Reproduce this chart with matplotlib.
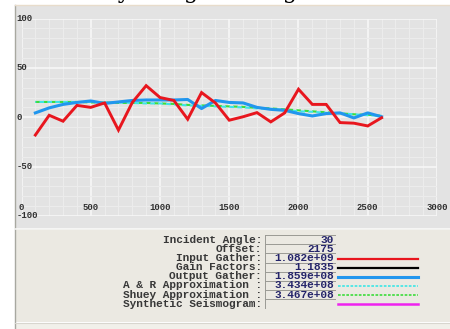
import matplotlib
matplotlib.use("Agg")
import matplotlib.pyplot as plt
from matplotlib.patches import Rectangle
from matplotlib.lines import Line2D
import matplotlib.transforms as mtransforms
from matplotlib.ticker import MultipleLocator

# ---------------- data ----------------
offsets = [100, 200, 300, 400, 500, 600, 700, 800, 900, 1000, 1100, 1200, 1300,
           1400, 1500, 1600, 1700, 1800, 1900, 2000, 2100, 2200, 2300, 2400, 2500, 2600]
input_gather = [-18, 2, -4, 12, 10, 14.5, -13, 15, 32, 20, 17, -2, 25,
                14.5, -3, 0.5, 4.7, -4.7, 4.4, 28.4, 13, 13, -5.4, -6, -8.8, -0.5]
output_gather = [4.4, 9.5, 13, 15, 16.5, 14, 15.5, 17, 17.5, 17.5, 17.5, 18, 8.8,
                 17, 15, 14.5, 10, 8, 7, 3.7, 1.3, 3.7, 4.4, -0.7, 4.4, 0.5]
ar_approx = [15.5, 15.5, 15.5, 15.5, 15.5, 15, 15, 14.5, 14, 14, 13, 12, 11.5,
             11, 10.5, 10, 9, 8.5, 7.5, 6, 5.5, 4.5, 4, 3, 2, 1.5]
shuey_approx = [15.5, 15.5, 15.5, 15.5, 15, 15, 14.5, 14.5, 14.5, 14, 13.5, 12.5, 12,
                11.5, 11, 10.5, 9.5, 9, 8, 7, 6, 5, 4, 3, 2.5, 1.5]

x_ticks = [0, 500, 1000, 1500, 2000, 2500, 3000]
y_ticks = [100, 50, 0, -50, -100]

table_labels = ["Incident Angle:", "Offset:", "Input Gather:", "Gain Factors:",
                "Output Gather:", "A & R Approximation :", "Shuey Approximation :",
                "Synthetic Seismogram:"]
table_values = ["30", "2175", "1.082e+09", "1.1835", "1.859e+08",
                "3.434e+08", "3.467e+08", ""]

# ---------------- styles ----------------
W, H = 450, 329
RED = "#e8161e"
BLUE = "#2196ee"
CYAN = "#3ce6e6"
GREEN = "#3cdc3c"
MAGENTA = "#ee22ee"
PANEL = "#e3e3e3"
BEIGE = "#ebe9e2"
mono = ["Liberation Mono", "DejaVu Sans Mono"]

def fx(px):
    return px / W

def fy(py):
    return 1 - py / H

fig = plt.figure(figsize=(W / 100, H / 100), dpi=100)
fig.patch.set_facecolor("white")

# panels
fig.patches.append(Rectangle((fx(15), fy(228)), fx(450) - fx(15), fy(5) - fy(228),
                             transform=fig.transFigure, facecolor=PANEL,
                             edgecolor="none", zorder=-10))
fig.patches.append(Rectangle((fx(15), fy(322)), fx(450) - fx(15), fy(229) - fy(322),
                             transform=fig.transFigure, facecolor=BEIGE,
                             edgecolor="none", zorder=-10))
fig.patches.append(Rectangle((fx(15), fy(329)), fx(450) - fx(15), fy(323) - fy(329),
                             transform=fig.transFigure, facecolor="#f1f0ea",
                             edgecolor="none", zorder=-10))
fig.lines.append(Line2D([fx(15), fx(15)], [fy(5), fy(329)], transform=fig.transFigure,
                        color="#a8a8a0", lw=1.0, zorder=-5))
fig.lines.append(Line2D([fx(15), fx(450)], [fy(4.5), fy(4.5)], transform=fig.transFigure,
                        color="#e8dccb", lw=1.0, zorder=-5))
fig.lines.append(Line2D([fx(15), fx(450)], [fy(228.5), fy(228.5)], transform=fig.transFigure,
                        color="#f4f4f2", lw=1.2, zorder=-5))
fig.lines.append(Line2D([fx(15), fx(450)], [fy(322.5), fy(322.5)], transform=fig.transFigure,
                        color="#d8d6cf", lw=0.8, zorder=-5))

# cut-off title above the chart (only its descenders show)
fig.text(fx(18), fy(-2.2), "Traces by Range Fitting", family="DejaVu Serif",
         fontsize=16.5, color="black", ha="left", va="baseline", zorder=-8)

# ---------------- plot axes ----------------
x0, x1 = 21.5, 437.0
y_top, y_bot = 18.5, 216.0
ax = fig.add_axes([fx(x0), fy(y_bot), fx(x1) - fx(x0), fy(y_top) - fy(y_bot)])
ax.set_zorder(1)
ax.set_facecolor(PANEL)
ax.set_xlim(0, 3000)
ax.set_ylim(-100, 100)
for s in ax.spines.values():
    s.set_visible(False)
ax.xaxis.set_major_locator(MultipleLocator(500))
ax.xaxis.set_minor_locator(MultipleLocator(100))
ax.yaxis.set_major_locator(MultipleLocator(50))
ax.yaxis.set_minor_locator(MultipleLocator(10))
ax.tick_params(which="both", length=0, labelbottom=False, labelleft=False)
ax.grid(which="minor", color="#ececec", lw=0.8)
ax.grid(which="major", color="#f8f8f8", lw=1.1)
ax.set_axisbelow(True)

ax.plot(offsets, shuey_approx, color=GREEN, lw=1.5, ls=(0, (2.2, 1.6)), zorder=3)
ax.plot(offsets, ar_approx, color=CYAN, lw=1.5, ls=(1.8, (2.2, 1.6)), zorder=4)
ax.plot(offsets, output_gather, color=BLUE, lw=2.2, zorder=5, solid_joinstyle="round")
ax.plot(offsets, input_gather, color=RED, lw=2.1, zorder=6, solid_joinstyle="miter")

tick_kw = dict(family=mono, fontsize=6.4, fontweight="bold", color="#303030")
ytrans = mtransforms.blended_transform_factory(fig.transFigure, ax.transData)
for v in y_ticks:
    ax.text(fx(16.5), v, str(v), transform=ytrans, ha="left", va="center",
            clip_on=False, **tick_kw)
xtrans = mtransforms.blended_transform_factory(ax.transData, fig.transFigure)
for v in x_ticks:
    ax.text(v, fy(207), str(v), transform=xtrans, ha="center", va="center",
            clip_on=False, **tick_kw)

# ---------------- legend table ----------------
row_y0, row_dy = 240.0, 9.1
lab_kw = dict(family=mono, fontsize=8.0, fontweight="bold", color="#383838")
val_kw = dict(family=mono, fontsize=8.0, fontweight="bold", color="#24246a")
sample_styles = [None, None,
                 dict(color=RED, lw=1.6),
                 dict(color="black", lw=1.6),
                 dict(color=BLUE, lw=2.2),
                 dict(color=CYAN, lw=1.2, ls=(0, (1.6, 0.9))),
                 dict(color=GREEN, lw=1.2, ls=(0, (1.6, 0.9))),
                 dict(color=MAGENTA, lw=1.8)]
for i, (lab, val, st) in enumerate(zip(table_labels, table_values, sample_styles)):
    yc = row_y0 + i * row_dy
    fig.text(fx(262), fy(yc), lab, ha="right", va="center", **lab_kw)
    fig.text(fx(334), fy(yc), val, ha="right", va="center", **val_kw)
    fig.lines.append(Line2D([fx(265), fx(335)], [fy(yc - 4.8), fy(yc - 4.8)],
                            transform=fig.transFigure, color="#9a9a94", lw=0.7))
    if st is not None:
        fig.lines.append(Line2D([fx(337.5), fx(418)], [fy(yc + 0.5), fy(yc + 0.5)],
                                transform=fig.transFigure, **st))
fig.lines.append(Line2D([fx(265), fx(265)], [fy(235), fy(row_y0 + 7 * row_dy + 4)],
                        transform=fig.transFigure, color="#9a9a94", lw=0.7))

fig.savefig("out.png", dpi=100)
